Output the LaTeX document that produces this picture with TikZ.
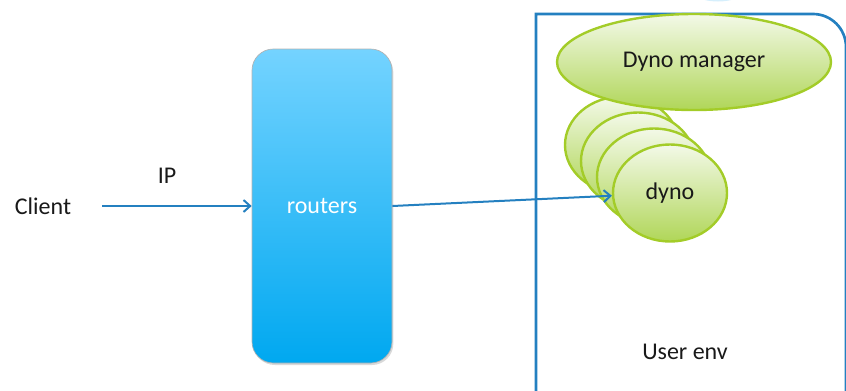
\documentclass[tikz,border=0pt]{standalone}
\usepackage{fontspec}
\setmainfont{Carlito}
\usetikzlibrary{arrows.meta,shadows,shapes.geometric}

\definecolor{linkblue}{RGB}{36,128,192}
\definecolor{routertop}{RGB}{116,211,255}
\definecolor{routerbot}{RGB}{0,168,240}
\definecolor{dynotop}{RGB}{243,249,232}
\definecolor{dynobot}{RGB}{176,214,88}
\definecolor{dynoline}{RGB}{163,204,40}
\definecolor{blob}{RGB}{214,239,252}

\tikzset{
  plaintext/.style={font=\fontsize{18}{22}\selectfont, text=black!90, inner sep=0pt},
  link/.style={draw=linkblue, line width=1.5pt, -{Straight Barb[length=5pt,width=9pt]}},
  router/.style={plaintext, text=white, draw=black!30, line width=0.5pt,
    rounded corners=16pt, minimum width=105pt, minimum height=235.5pt,
    top color=routertop, bottom color=routerbot,
    drop shadow={shadow xshift=1pt, shadow yshift=-1.5pt, opacity=.3}},
  dyno/.style={plaintext, ellipse, draw=dynoline, line width=1.8pt,
    minimum width=85.5pt, minimum height=72.75pt,
    top color=dynotop, bottom color=dynobot},
  manager/.style={dyno, minimum width=205.5pt, minimum height=72pt},
  envline/.style={draw=linkblue, line width=2pt}
}

\begin{document}
\begin{tikzpicture}[x=0.75pt, y=-0.75pt]
  \useasboundingbox (0,0) rectangle (846,390);

  % user env box, cut by the page edge
  \fill[blob] (718,-20) ellipse [x radius=36, y radius=21.5];
  \draw[envline] (536,400) -- (536,14) -- (813,14) arc [start angle=-90, end angle=0, radius=33] -- (846,400);
  \node[plaintext] (env) at (685,352) {User env};

  \node[plaintext] (client) at (43,206) {Client};
  \node[plaintext] (ip) at (167,176) {IP};
  \node[router] (routers) at (322,206) {routers};

  % dynos, back to front
  \node[dyno] (dyno1) at (622,145) {};
  \node[dyno] (dyno2) at (638,161) {};
  \node[dyno] (dyno3) at (654,177) {};
  \node[dyno] (dyno4) at (670,193) {dyno};
  \node[manager] (manager) at (694,62) {Dyno manager};

  \draw[link, shorten <=23pt] (client.east) -- (client.east -| routers.west);
  \draw[link] (routers.east) -- (dyno4);
\end{tikzpicture}
\end{document}
